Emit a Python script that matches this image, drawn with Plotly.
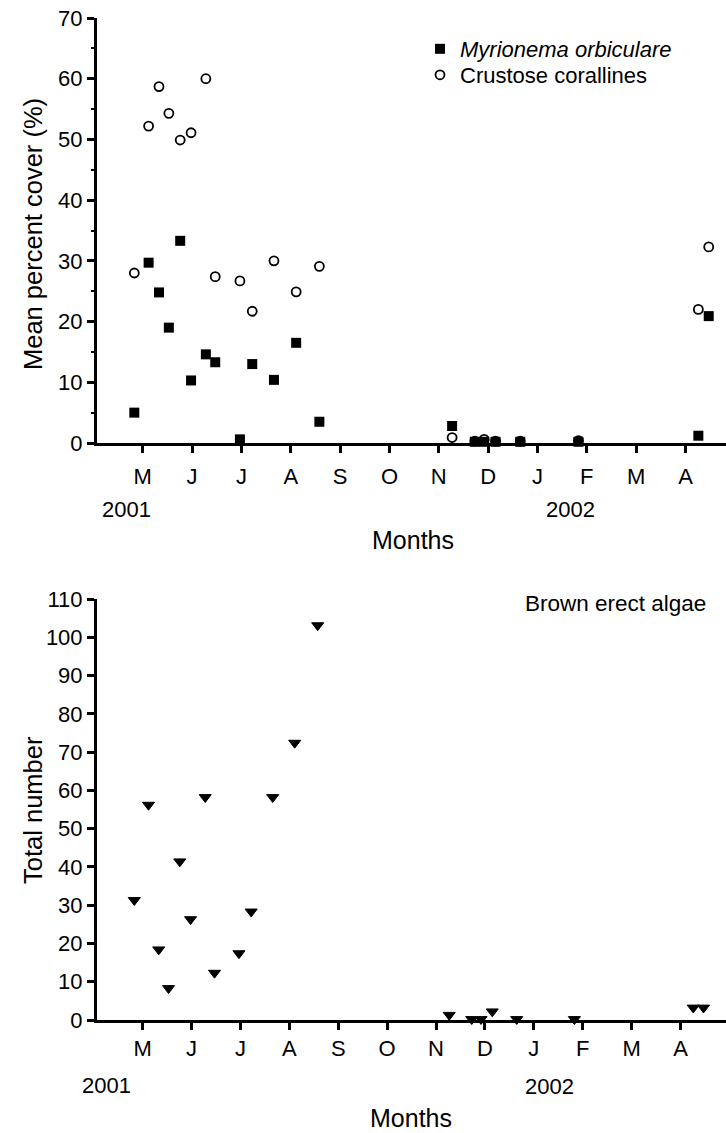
import plotly.graph_objects as go

# ---- data -------------------------------------------------------------
month_labels = ['M', 'J', 'J', 'A', 'S', 'O', 'N', 'D', 'J', 'F', 'M', 'A']
month_pos = list(range(1, 13))          # May 2001 = 1 ... April 2002 = 12

# sampling dates expressed as position on the month axis
dates = [0.83, 1.12, 1.33, 1.53, 1.76, 1.98, 2.28, 2.47, 2.97, 3.22, 3.66,
         4.11, 4.58, 7.27, 7.73, 7.92, 8.15, 8.65, 9.83, 12.26, 12.47]

myrionema = [5.0, 29.7, 24.8, 19.0, 33.3, 10.3, 14.6, 13.3, 0.6, 13.0, 10.4,
             16.5, 3.5, 2.8, 0.2, 0.2, 0.2, 0.2, 0.2, 1.2, 20.9]
corallines = [28.0, 52.2, 58.7, 54.3, 49.9, 51.1, 60.0, 27.4, 26.7, 21.7, 30.0,
              24.9, 29.1, 0.9, 0.3, 0.6, 0.3, 0.3, 0.4, 22.0, 32.3]
brown_erect = [31.3, 56.2, 18.4, 8.3, 41.4, 26.3, 58.2, 12.3, 17.4, 28.3, 58.2,
               72.4, 103.1, 1.3, 0.2, 0.2, 2.2, 0.2, 0.2, 3.2, 3.2]

# ---- figure -----------------------------------------------------------
W, H = 726, 1133
L = 97
FONT = 'Liberation Sans, Arial, sans-serif'


def px(x):
    return (x - L) / (W - L)


def py(y):
    return 1 - y / H


fig = go.Figure()
fig.add_trace(go.Scatter(
    x=dates, y=corallines, mode='markers', name='Crustose corallines',
    marker=dict(symbol='circle', size=9, color='white',
                line=dict(color='black', width=1.8)),
    cliponaxis=False, legend='legend2', xaxis='x', yaxis='y'))
fig.add_trace(go.Scatter(
    x=dates, y=myrionema, mode='markers', name='<i>Myrionema orbiculare</i>',
    marker=dict(symbol='square', size=10, color='black'),
    cliponaxis=False, legend='legend', xaxis='x', yaxis='y'))
fig.add_trace(go.Scatter(
    x=dates, y=brown_erect, mode='markers', name='Brown erect algae',
    marker=dict(symbol='triangle-down', size=10.5, color='black',
                line=dict(color='black', width=1)),
    cliponaxis=False, showlegend=False, xaxis='x2', yaxis='y2'))

common = dict(showline=True, linecolor='black', linewidth=3, ticks='outside',
              ticklen=7, tickwidth=2.5, tickcolor='black', showgrid=False,
              zeroline=False, automargin=False, layer='below traces',
              tickfont=dict(family=FONT, size=22, color='black'))

legend_common = dict(xanchor='left', yanchor='top',
                     font=dict(family=FONT, size=22, color='black'),
                     bgcolor='rgba(0,0,0,0)', itemwidth=30)

fig.update_layout(
    width=W, height=H, margin=dict(l=L, r=0, t=0, b=0),
    plot_bgcolor='white', paper_bgcolor='white',
    font=dict(family=FONT, color='black'),
    xaxis=dict(**common, domain=[0, 1], anchor='y', range=[0.074, 12.82],
               tickmode='array', tickvals=month_pos, ticktext=month_labels,
               ticklabelstandoff=5),
    yaxis=dict(**common, domain=[py(443), py(18)], anchor='x', range=[0, 70],
               tick0=0, dtick=10,
               minor=dict(tick0=0, dtick=5, ticks='outside', ticklen=3,
                          tickwidth=2, tickcolor='black')),
    xaxis2=dict(**common, domain=[0, 1], anchor='y2', range=[0.067, 12.93],
                tickmode='array', tickvals=month_pos, ticktext=month_labels,
                ticklabelstandoff=0),
    yaxis2=dict(**common, domain=[py(1020), py(599)], anchor='x2',
                range=[0, 110], tick0=0, dtick=10),
    legend=dict(**legend_common, x=px(420), y=py(28)),
    legend2=dict(**legend_common, x=px(420), y=py(54)),
    showlegend=True,
)

ann = [
    dict(text='2001', x=px(126), y=py(509), size=22),
    dict(text='2002', x=px(570), y=py(509), size=22),
    dict(text='Months', x=px(413), y=py(540), size=25),
    dict(text='2001', x=px(106), y=py(1085), size=22),
    dict(text='2002', x=px(549), y=py(1086), size=22),
    dict(text='Months', x=px(411), y=py(1118), size=25),
    dict(text='Brown erect algae', x=px(615), y=py(603), size=22.5),
]
for a in ann:
    fig.add_annotation(text=a['text'], x=a['x'], y=a['y'], xref='paper',
                       yref='paper', xanchor='center', yanchor='middle',
                       showarrow=False,
                       font=dict(family=FONT, size=a['size'], color='black'))

fig.add_annotation(text='Mean percent cover (%)', x=px(33), y=py(234),
                   xref='paper', yref='paper', textangle=-90,
                   xanchor='center', yanchor='middle', showarrow=False,
                   font=dict(family=FONT, size=25.5, color='black'))
fig.add_annotation(text='Total number', x=px(33), y=py(810),
                   xref='paper', yref='paper', textangle=-90,
                   xanchor='center', yanchor='middle', showarrow=False,
                   font=dict(family=FONT, size=25.5, color='black'))

fig.write_html('out.html')
